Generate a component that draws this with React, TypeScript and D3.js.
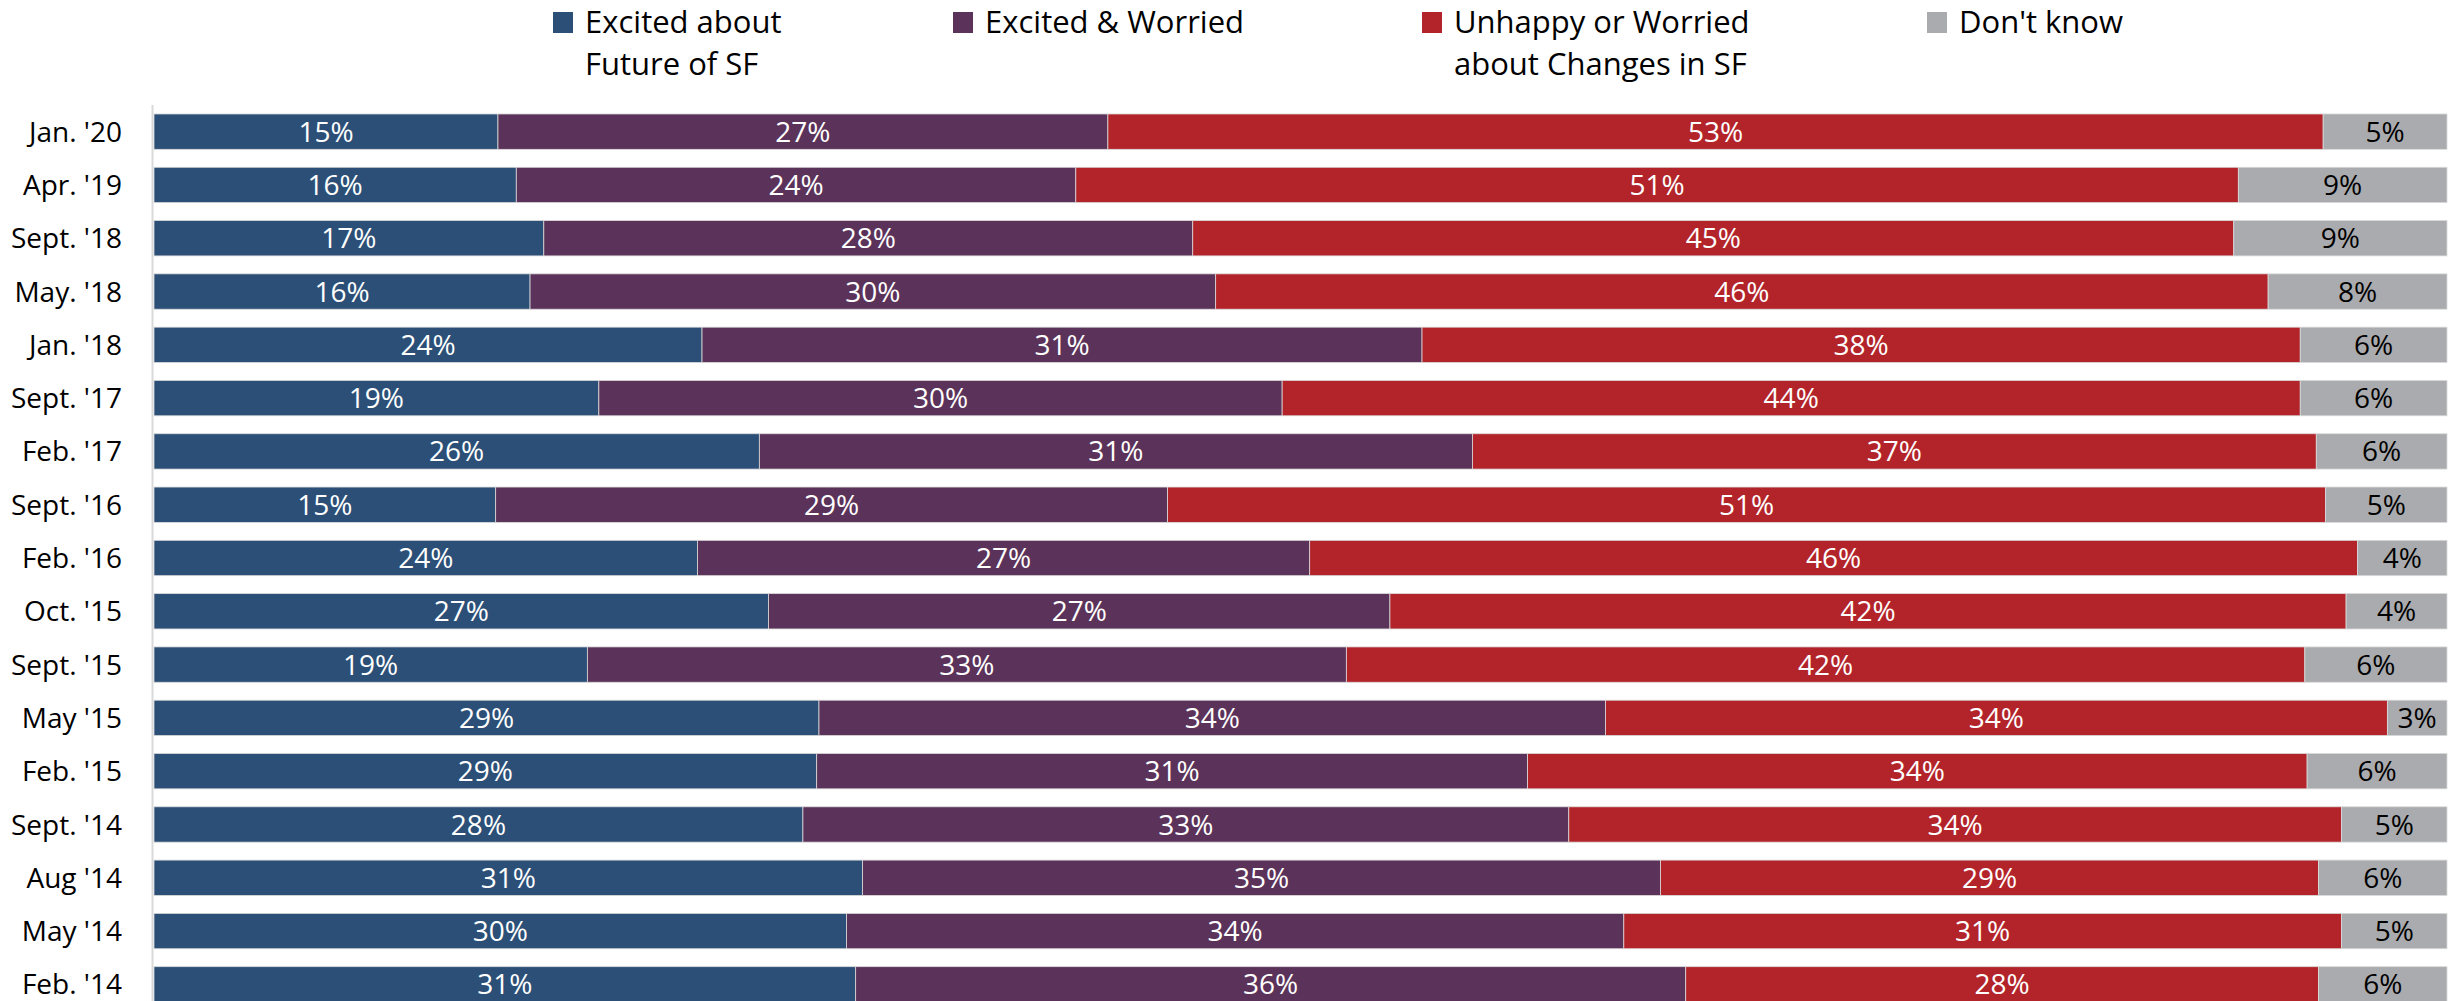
import React from 'react';
import * as d3 from 'd3';

const categories = ["Jan. '20", "Apr. '19", "Sept. '18", "May. '18", "Jan. '18", "Sept. '17", "Feb. '17", "Sept. '16", "Feb. '16", "Oct. '15", "Sept. '15", "May '15", "Feb. '15", "Sept. '14", "Aug '14", "May '14", "Feb. '14"];
const excited = [15.0, 15.8, 17.0, 16.4, 23.9, 19.4, 26.4, 14.9, 23.7, 26.8, 18.9, 29.0, 28.9, 28.3, 30.9, 30.2, 30.6];
const excitedWorried = [26.6, 24.4, 28.3, 29.9, 31.4, 29.8, 31.1, 29.3, 26.7, 27.1, 33.1, 34.3, 31.0, 33.4, 34.8, 33.9, 36.2];
const unhappy = [53.0, 50.7, 45.4, 45.9, 38.3, 44.4, 36.8, 50.5, 45.7, 41.7, 41.8, 34.1, 34.0, 33.7, 28.7, 31.3, 27.6];
const dontKnow = [5.4, 9.1, 9.3, 7.8, 6.4, 6.4, 5.7, 5.3, 3.9, 4.4, 6.2, 2.6, 6.1, 4.6, 5.6, 4.6, 5.6];

const seriesKeys = ['excited', 'excitedWorried', 'unhappy', 'dontKnow'];
const seriesLabels = [["Excited about", "Future of SF"], ["Excited & Worried"], ["Unhappy or Worried", "about Changes in SF"], ["Don't know"]];
const seriesColors = ['#2B4F77', '#5B3259', '#B3242A', '#AAABAE'];
const labelColors = ['#ffffff', '#ffffff', '#ffffff', '#000000'];
const legendX = [553, 953, 1422, 1927];

const W = 2458;
const H = 1001;
const FONT = "'Open Sans', sans-serif";

export default function App() {
  const rows = categories.map((c, i) => ({
    category: c,
    excited: excited[i],
    excitedWorried: excitedWorried[i],
    unhappy: unhappy[i],
    dontKnow: dontKnow[i],
  }));

  const stack = d3.stack<any>().keys(seriesKeys).offset(d3.stackOffsetExpand);
  const stacked = stack(rows);

  const x = d3.scaleLinear().domain([0, 1]).range([154, 2447]);
  const y = d3.scaleBand<string>()
    .domain(categories)
    .range([105, 1011])
    .paddingInner(0.337)
    .paddingOuter(0.1685);

  const bw = y.bandwidth();

  return (
    <svg width={W} height={H} style={{ position: 'absolute', left: 0, top: 0, display: 'block', background: '#fff' }} fontFamily={FONT}>
      <rect x={0} y={0} width={W} height={H} fill="#ffffff" />
      {/* legend */}
      {seriesKeys.map((k, i) => (
        <g key={k}>
          <rect x={legendX[i]} y={12} width={20} height={21} fill={seriesColors[i]} />
          {seriesLabels[i].map((t, j) => (
            <text key={j} x={legendX[i] + 32} y={33 + j * 42} fontSize={31} fill="#000">{t}</text>
          ))}
        </g>
      ))}
      {/* bars */}
      {stacked.map((s, si) => (
        <g key={s.key}>
          {s.map((d, di) => {
            const x0 = x(d[0]);
            const x1 = x(d[1]);
            const yy = y(categories[di]) as number;
            return (
              <rect key={di} x={x0} y={yy} width={Math.max(0, x1 - x0)} height={bw}
                fill={seriesColors[si]} stroke="#d9d9d9" strokeWidth={0.8} />
            );
          })}
        </g>
      ))}
      {/* value labels */}
      {stacked.map((s, si) => (
        <g key={s.key + '-lbl'}>
          {s.map((d, di) => {
            const x0 = x(d[0]);
            const x1 = x(d[1]);
            const yy = (y(categories[di]) as number) + bw / 2;
            const v = (rows[di] as any)[s.key] as number;
            return (
              <text key={di} x={(x0 + x1) / 2} y={yy} dy="0.36em" textAnchor="middle"
                fontSize={28} fill={labelColors[si]}>{Math.round(v) + '%'}</text>
            );
          })}
        </g>
      ))}
      {/* axis line */}
      <line x1={152.5} x2={152.5} y1={y.range()[0]} y2={y.range()[1]} stroke="#d9d9d9" strokeWidth={2} />
      {/* category labels */}
      {categories.map((c) => (
        <text key={c} x={122} y={(y(c) as number) + bw / 2} dy="0.36em" textAnchor="end" fontSize={28} fill="#000">{c}</text>
      ))}
    </svg>
  );
}
